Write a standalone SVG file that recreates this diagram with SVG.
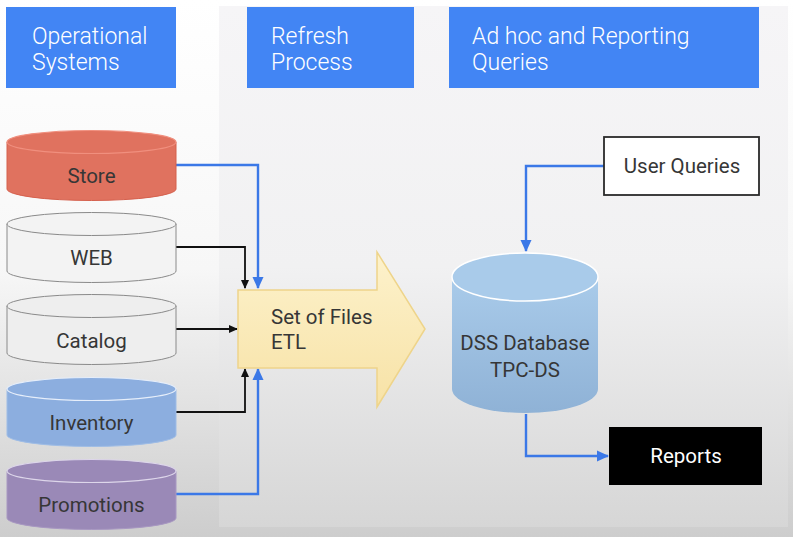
<svg xmlns="http://www.w3.org/2000/svg" width="793" height="537" viewBox="0 0 793 537">
<defs>
<linearGradient id="bg" x1="0" y1="0" x2="0" y2="1">
<stop offset="0" stop-color="#ffffff"/>
<stop offset="0.5" stop-color="#f7f7f7"/>
<stop offset="1" stop-color="#cdcdcd"/>
</linearGradient>
<linearGradient id="panel" x1="0" y1="0" x2="0" y2="1">
<stop offset="0" stop-color="#f6f5f7"/>
<stop offset="0.5" stop-color="#f1f1f2"/>
<stop offset="1" stop-color="#d6d6d6"/>
</linearGradient>
<linearGradient id="etl" x1="0" y1="0" x2="0" y2="1">
<stop offset="0" stop-color="#fdf2cc"/>
<stop offset="1" stop-color="#f7e2a6"/>
</linearGradient>
<linearGradient id="dss" x1="0" y1="0" x2="0" y2="1">
<stop offset="0" stop-color="#a9cbea"/>
<stop offset="1" stop-color="#8fb2d6"/>
</linearGradient>
<marker id="ab" markerWidth="12" markerHeight="12" refX="11" refY="6" orient="auto" markerUnits="userSpaceOnUse">
<path d="M0,0.5 L12,6 L0,11.5 z" fill="#3b78e7"/>
</marker>
<marker id="ak" markerWidth="9" markerHeight="9" refX="8" refY="4.5" orient="auto" markerUnits="userSpaceOnUse">
<path d="M0,0.5 L9,4.5 L0,8.5 z" fill="#111"/>
</marker>
</defs>
<style>
.hdr{fill:#4285f4;}
.htxt{font-family:Roboto,"Liberation Sans",sans-serif;font-weight:300;font-size:23px;fill:#ffffff;}
.lbl{font-family:Roboto,"Liberation Sans",sans-serif;font-size:20.5px;fill:#363636;text-anchor:middle;}
.blue{fill:none;stroke:#3b78e7;stroke-width:2.4;}
.black{fill:none;stroke:#111;stroke-width:1.8;}
</style>
<rect x="0" y="0" width="793" height="537" fill="url(#bg)"/>
<rect x="219" y="6" width="569" height="521" fill="url(#panel)"/>

<g id="hdr-operational">
<rect class="hdr" x="6" y="7" width="170" height="81"/>
<text class="htxt" x="32" y="44">Operational</text>
<text class="htxt" x="32" y="70">Systems</text>
</g>
<g id="hdr-refresh">
<rect class="hdr" x="247" y="7" width="167" height="81"/>
<text class="htxt" x="271" y="44">Refresh</text>
<text class="htxt" x="271" y="70">Process</text>
</g>
<g id="hdr-adhoc">
<rect class="hdr" x="449" y="7" width="310" height="81"/>
<text class="htxt" x="472" y="44">Ad hoc and Reporting</text>
<text class="htxt" x="472" y="70">Queries</text>
</g>

<g id="connectors">
<path class="blue" d="M176,165 H258 V288" marker-end="url(#ab)"/>
<path class="black" d="M176,247 H245 V288" marker-end="url(#ak)"/>
<path class="black" d="M176,329 H237" marker-end="url(#ak)"/>
<path class="black" d="M176,412 H245 V369" marker-end="url(#ak)"/>
<path class="blue" d="M176,494 H258 V369" marker-end="url(#ab)"/>
<path class="blue" d="M604,166 H526 V251" marker-end="url(#ab)"/>
<path class="blue" d="M526,414 V456 H608" marker-end="url(#ab)"/>
</g>

<g id="store">
<path d="M7,142 V189 A84.5,11.5 0 0 0 176,189 V142" fill="#e0725f" stroke="#d5604d" stroke-width="1"/>
<ellipse cx="91.5" cy="142" rx="84.5" ry="11.5" fill="#e0725f" stroke="#f08f7e" stroke-width="1.2"/>
<text class="lbl" x="91.5" y="183">Store</text>
</g>
<g id="web">
<path d="M7,224 V271 A84.5,11.5 0 0 0 176,271 V224" fill="#f3f3f3" stroke="#8a8a8a" stroke-width="1"/>
<ellipse cx="91.5" cy="224" rx="84.5" ry="11.5" fill="#f3f3f3" stroke="#8a8a8a" stroke-width="1"/>
<text class="lbl" x="91.5" y="265">WEB</text>
</g>
<g id="catalog">
<path d="M7,306 V353 A84.5,11.5 0 0 0 176,353 V306" fill="#eeeeee" stroke="#8a8a8a" stroke-width="1"/>
<ellipse cx="91.5" cy="306" rx="84.5" ry="11.5" fill="#eeeeee" stroke="#8a8a8a" stroke-width="1"/>
<text class="lbl" x="91.5" y="348">Catalog</text>
</g>
<g id="inventory">
<path d="M7,389 V435 A84.5,11.5 0 0 0 176,435 V389" fill="#8caedf" stroke="#9fbde6" stroke-width="1"/>
<ellipse cx="91.5" cy="389" rx="84.5" ry="11.5" fill="#8caedf" stroke="#e6eefa" stroke-width="1.2"/>
<text class="lbl" x="91.5" y="430">Inventory</text>
</g>
<g id="promotions">
<path d="M7,471 V518 A84.5,11.5 0 0 0 176,518 V471" fill="#9a89b7" stroke="#a898c2" stroke-width="1"/>
<ellipse cx="91.5" cy="471" rx="84.5" ry="11.5" fill="#9a89b7" stroke="#ddd6ea" stroke-width="1.2"/>
<text class="lbl" x="91.5" y="512">Promotions</text>
</g>

<g id="etl">
<path d="M238,290 H377 V252 L425,329 L377,407 V368 H238 Z" fill="url(#etl)" stroke="#eed48a" stroke-width="1.5"/>
<text class="lbl" x="271" y="324" style="text-anchor:start">Set of Files</text>
<text class="lbl" x="271" y="349" style="text-anchor:start">ETL</text>
</g>

<g id="dss">
<path d="M452,277 V389 A73,24 0 0 0 598,389 V277" fill="url(#dss)"/>
<ellipse cx="525" cy="277" rx="73" ry="24" fill="#a9cbea" stroke="#ffffff" stroke-width="1.5"/>
<text class="lbl" x="525" y="350">DSS Database</text>
<text class="lbl" x="525" y="377">TPC-DS</text>
</g>

<g id="user-queries">
<rect x="604" y="137" width="155" height="58" fill="#ffffff" stroke="#2a2a2a" stroke-width="1.8"/>
<text class="lbl" x="682" y="173">User Queries</text>
</g>

<g id="reports">
<rect x="609" y="427" width="153" height="58" fill="#000000"/>
<text class="lbl" x="686" y="463" style="fill:#ffffff">Reports</text>
</g>
</svg>
